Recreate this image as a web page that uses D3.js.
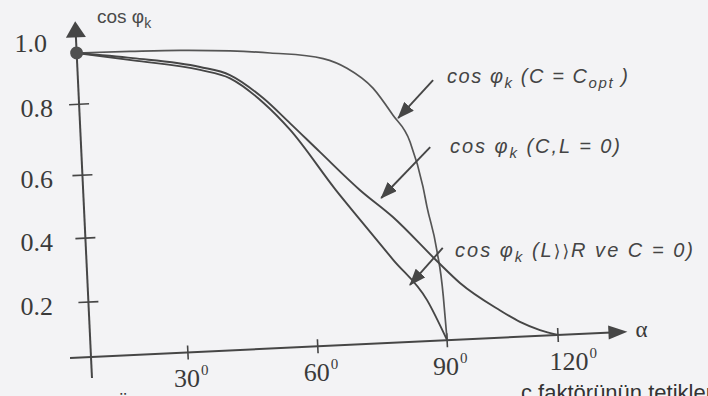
<!DOCTYPE html>
<html><head><meta charset="utf-8">
<script src="https://cdn.jsdelivr.net/npm/d3@7"></script>
<style>
html,body{margin:0;padding:0;background:#f3f3f5;}
svg{display:block;}
</style></head><body>
<svg id="chart" width="708" height="396"></svg>
<script>
// Firing angle α (degrees) and power factor cos φk for the three cases
const alphaCopt = [0, 16.5, 31.5, 43.0, 52.2, 64.4, 69.8, 75.6, 79.9, 83.6, 86.1, 86.8, 88.6, 89.6, 90];
const cosCopt   = [0.958, 0.955, 0.951, 0.942, 0.930, 0.905, 0.872, 0.807, 0.728, 0.650, 0.512, 0.448, 0.311, 0.160, 0];

const alphaCL0 = [0, 17.3, 35.9, 42.7, 50.1, 56.0, 62.6, 71.5, 78.8, 88.5, 94.2, 104.6, 109.9, 115.2, 120];
const cosCL0   = [0.958, 0.934, 0.897, 0.868, 0.793, 0.719, 0.634, 0.511, 0.421, 0.277, 0.205, 0.100, 0.054, 0.021, 0];

const alphaLR = [0, 17.3, 35.9, 42.7, 50.1, 56.0, 65.9, 71.2, 78.4, 85.8, 90];
const cosLR   = [0.958, 0.927, 0.888, 0.858, 0.780, 0.700, 0.515, 0.417, 0.287, 0.149, 0];

// Axis ticks
const xTicks = [30, 60, 90, 120];
const xTickLabels = ["30", "60", "90", "120"];
const yTicks = [0.2, 0.4, 0.6, 0.8, 1.0];
const yTickLabels = ["0.2", "0.4", "0.6", "0.8", "1.0"];

// Annotation arrows (α, cos φk): tail -> head
const arrowTail = [[89.6, 0.823], [88.2, 0.633], [90.0, 0.317]];
const arrowHead = [[81.1, 0.719], [76.3, 0.483], [82.0, 0.206]];

const svg = d3.select("#chart");
const ink = "#464646";
const O = {x: 91, y: 357};      // axis origin
const tilt = -2.7;              // the drawing sits slightly rotated on the page

const x = d3.scaleLinear().domain([0, 30, 60, 90, 120]).range([91, 188, 318, 447.5, 558.5]);
const y = d3.scaleLinear().domain([0, 0.2, 0.4, 0.6, 0.8, 1.0]).range([357, 302, 238, 175, 104, 39]);

const th = tilt * Math.PI / 180;
function rot(px, py) {
  const dx = px - O.x, dy = py - O.y;
  return [O.x + dx * Math.cos(th) - dy * Math.sin(th), O.y + dx * Math.sin(th) + dy * Math.cos(th)];
}

const defs = svg.append("defs");
defs.append("marker").attr("id", "head")
  .attr("markerUnits", "userSpaceOnUse")
  .attr("viewBox", "0 0 17 13").attr("refX", 16).attr("refY", 6.5)
  .attr("markerWidth", 17).attr("markerHeight", 13).attr("orient", "auto")
  .append("path").attr("d", "M0,0 L17,6.5 L0,13 Z").attr("fill", ink);

const g = svg.append("g").attr("transform", `rotate(${tilt},${O.x},${O.y})`);

// axes
g.append("line").attr("x1", 70).attr("y1", O.y).attr("x2", 612).attr("y2", O.y)
  .attr("stroke", ink).attr("stroke-width", 2);
g.append("path").attr("d", `M628,${O.y} L609,${O.y - 7} L609,${O.y + 7} Z`).attr("fill", ink);
g.append("line").attr("x1", O.x).attr("y1", 378).attr("x2", O.x).attr("y2", 34)
  .attr("stroke", ink).attr("stroke-width", 2);
g.append("path").attr("d", `M${O.x},21 L${O.x - 10},37 L${O.x + 10},37 Z`).attr("fill", ink);

g.selectAll(".xt").data(xTicks).join("line").attr("class", "xt")
  .attr("x1", d => x(d)).attr("x2", d => x(d)).attr("y1", O.y - 7).attr("y2", O.y + 7)
  .attr("stroke", ink).attr("stroke-width", 1.6);
g.selectAll(".yt").data(yTicks.filter(v => v < 1)).join("line").attr("class", "yt")
  .attr("x1", O.x - 10).attr("x2", O.x + 10).attr("y1", d => y(d)).attr("y2", d => y(d))
  .attr("stroke", ink).attr("stroke-width", 1.6);

// curves
const line = d3.line().x(d => x(d[0])).y(d => y(d[1])).curve(d3.curveMonotoneX);
const series = [
  {a: alphaCopt, c: cosCopt, w: 1.7, col: "#555"},
  {a: alphaCL0, c: cosCL0, w: 1.9, col: ink},
  {a: alphaLR, c: cosLR, w: 1.9, col: ink}
];
g.selectAll(".curve").data(series).join("path").attr("class", "curve")
  .attr("d", s => line(s.a.map((v, i) => [v, s.c[i]])))
  .attr("fill", "none").attr("stroke", s => s.col).attr("stroke-width", s => s.w);

g.append("circle").attr("cx", x(0)).attr("cy", y(cosCopt[0])).attr("r", 6.5).attr("fill", "#505050");

// annotation arrows
g.selectAll(".arrow").data(arrowTail).join("line").attr("class", "arrow")
  .attr("x1", d => x(d[0])).attr("y1", d => y(d[1]))
  .attr("x2", (d, i) => x(arrowHead[i][0])).attr("y2", (d, i) => y(arrowHead[i][1]))
  .attr("stroke", ink).attr("stroke-width", 1.9).attr("marker-end", "url(#head)");

// tick labels (upright text)
const serif = "'Liberation Serif','Times New Roman',serif";
const numInk = "#3a3a3a";
const xNudge = {120: 12};
xTicks.forEach((v, i) => {
  const p = rot(x(v), O.y);
  const cx = p[0] - 1 + (xNudge[v] || 0), by = p[1] + 35;
  const t = svg.append("text").attr("x", cx).attr("y", by).attr("text-anchor", "middle")
    .attr("font-family", serif).attr("font-size", 26).attr("fill", numInk).text(xTickLabels[i]);
  const w = t.node().getComputedTextLength();
  svg.append("text").attr("x", cx + w / 2 + 1).attr("y", by - 12)
    .attr("font-family", serif).attr("font-size", 15).attr("fill", numInk).text("0");
});
const yNudge = {1.0: -6};
yTicks.forEach((v, i) => {
  const p = rot(O.x, y(v));
  svg.append("text").attr("x", 53 + (yNudge[v] || 0)).attr("y", p[1] + 13).attr("text-anchor", "end")
    .attr("font-family", serif).attr("font-size", 26).attr("fill", numInk).text(yTickLabels[i]);
});
{
  const p = rot(630, O.y);
  svg.append("text").attr("x", p[0] + 6).attr("y", p[1] + 5)
    .attr("font-family", serif).attr("font-size", 23).attr("fill", numInk).text("α");
}

// axis title
const sans = "'Liberation Sans',Arial,Helvetica,sans-serif";
const title = svg.append("text").attr("x", 97).attr("y", 23)
  .attr("font-family", sans).attr("font-size", 19).attr("fill", "#4a4a4a");
title.append("tspan").text("cos φ");
title.append("tspan").attr("font-size", 14).attr("dy", 5).text("k");

// curve labels
function label(px, py, len, parts) {
  const t = svg.append("text").attr("x", px).attr("y", py)
    .attr("font-family", sans).attr("font-style", "italic").attr("font-size", 20).attr("fill", "#444")
    .attr("textLength", len).attr("lengthAdjust", "spacing");
  let sub = false;
  parts.forEach(([s, mode]) => {
    const isSub = mode === "sub";
    const ts = t.append("tspan").text(s);
    if (isSub) ts.attr("font-size", 15);
    if (isSub && !sub) ts.attr("dy", 5);
    else if (!isSub && sub) ts.attr("dy", -5);
    if (mode === "sym") ts.attr("font-family", "'DejaVu Sans',sans-serif").attr("font-style", "normal").attr("font-size", 17);
    sub = isSub;
  });
}
label(447, 83, 181, [["cos φ"], ["k", "sub"], [" (C = C"], ["opt", "sub"], [" )"]]);
label(450, 153, 170, [["cos φ"], ["k", "sub"], [" (C,L = 0)"]]);
label(455, 257, 238, [["cos φ"], ["k", "sub"], [" (L"], ["⟩⟩", "sym"], ["R ve C = 0)"]]);

// running text of the page, cut by the bottom edge
svg.append("text").attr("x", 116).attr("y", 410).attr("font-family", sans).attr("font-size", 20)
  .attr("fill", "#333").text("Ü");
svg.append("text").attr("x", 521).attr("y", 400).attr("font-family", sans).attr("font-size", 22)
  .attr("fill", "#333").text("ç faktörünün  tetikleme");
</script>
</body></html>
